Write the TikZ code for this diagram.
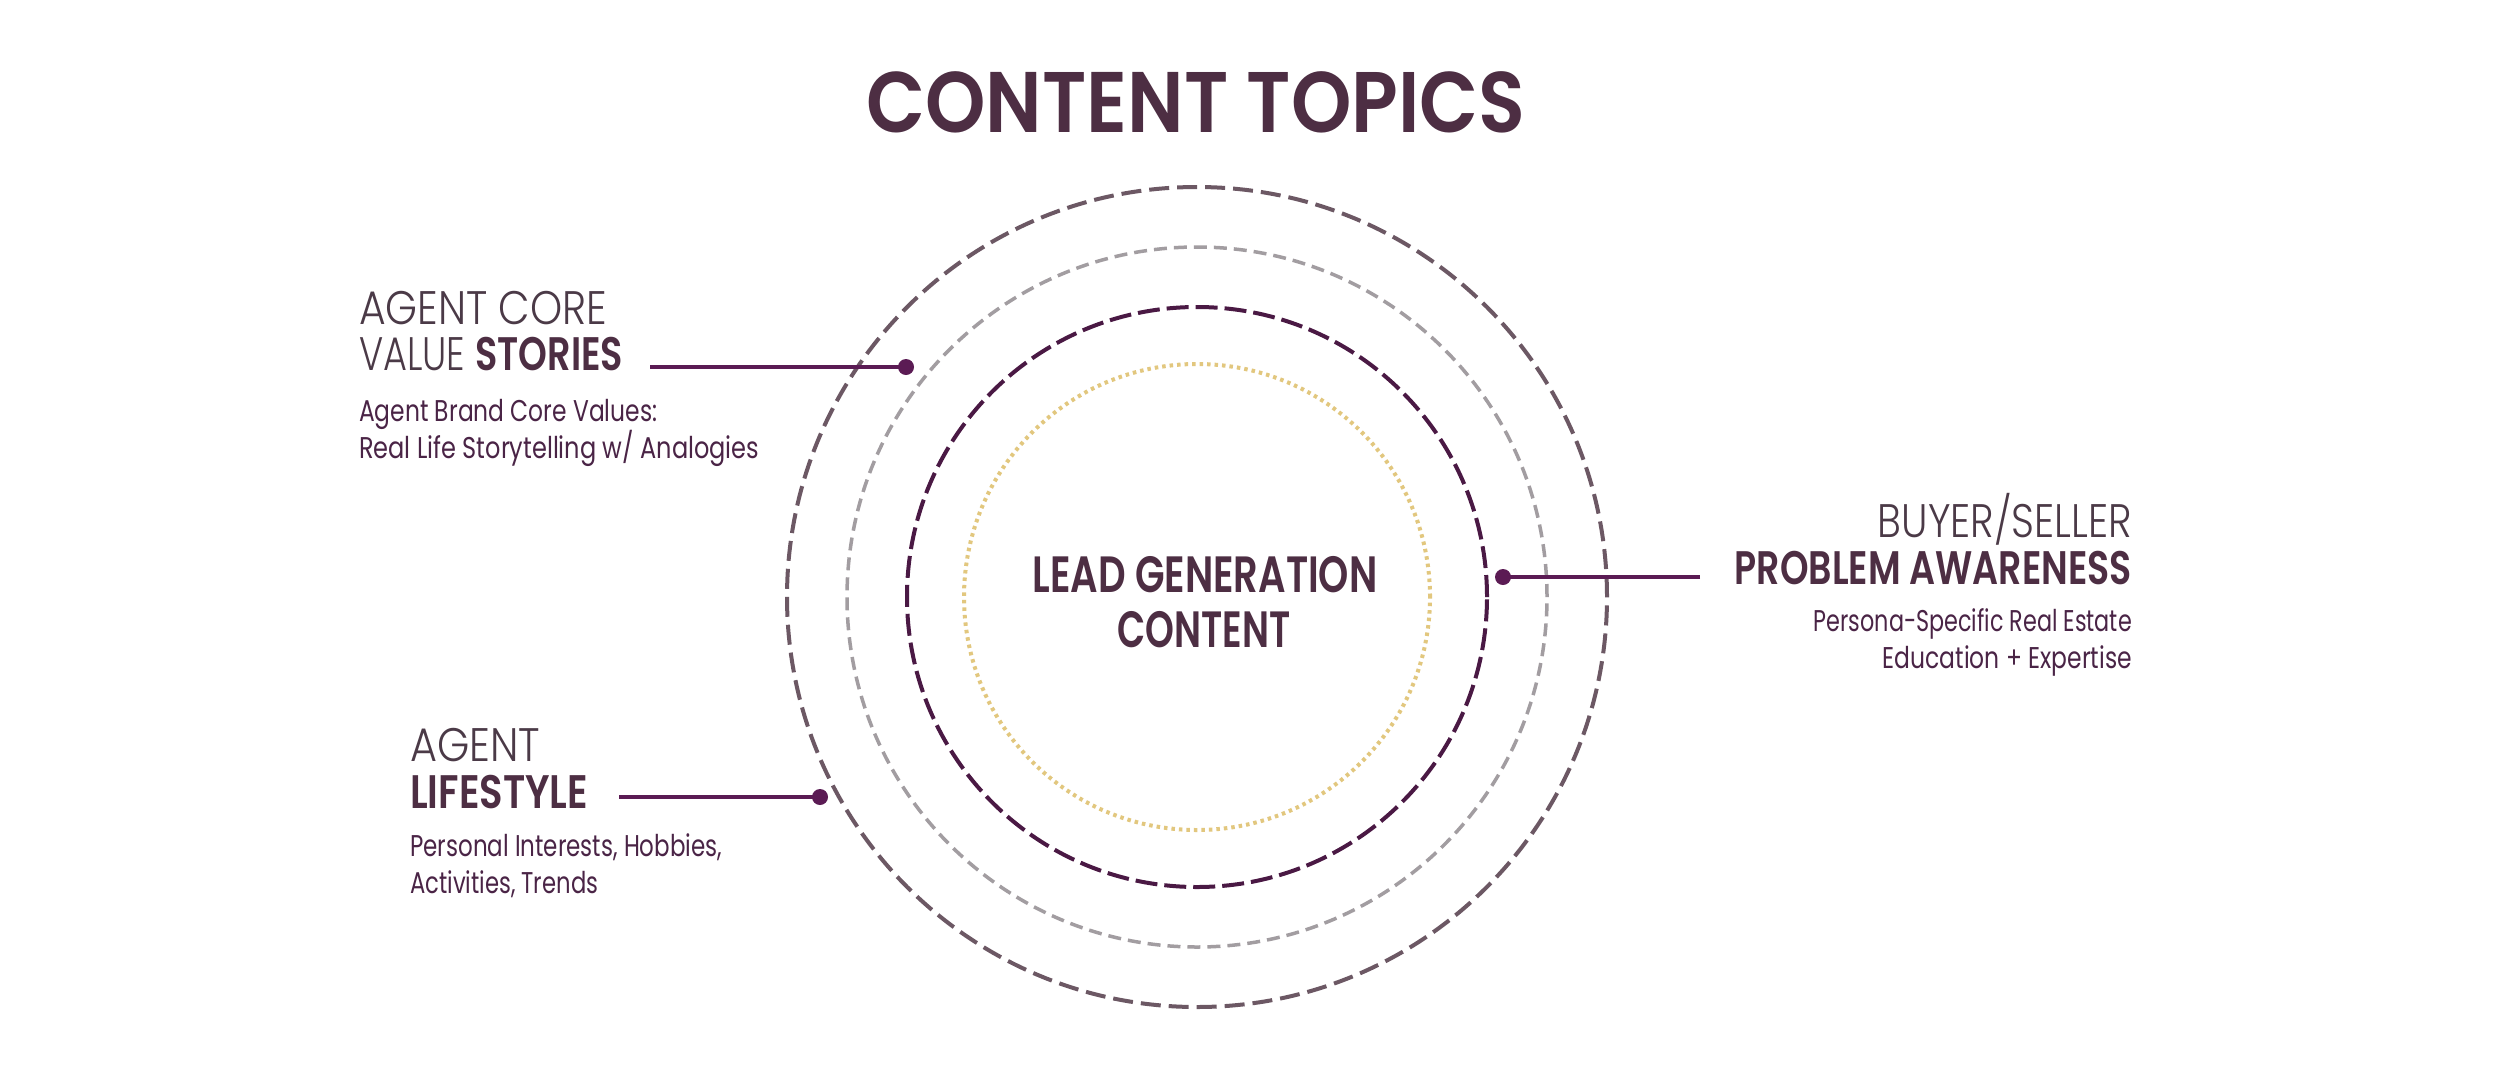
\documentclass[tikz,border=0pt]{standalone}
\usepackage{fontspec}
\usepackage{graphicx}
\setmainfont{Poppins}
\newfontfamily\lightf{Poppins Light}
\newfontfamily\regf{Poppins}
\newfontfamily\semif{Poppins SemiBold}
\definecolor{titlec}{HTML}{4D2E43}
\definecolor{headc}{HTML}{4B3A47}
\definecolor{bodyc}{HTML}{4A2446}
\definecolor{linec}{HTML}{5B1B54}
\definecolor{outerc}{HTML}{6C5864}
\definecolor{grayc}{HTML}{A29DA1}
\definecolor{purpc}{HTML}{4A1944}
\definecolor{yellc}{HTML}{E2C77E}
\newcommand{\fitw}[2]{\resizebox{#1pt}{\height}{#2}}
\begin{document}
\begin{tikzpicture}[x=1pt,y=-1pt,
 txt/.style={inner sep=0pt, anchor=base west},
 txtr/.style={inner sep=0pt, anchor=base east},
 txtc/.style={inner sep=0pt, anchor=base},
 headf/.style={font=\lightf\fontsize{47}{47}\selectfont, text=headc},
 boldf/.style={font=\semif\fontsize{47}{47}\selectfont, text=titlec},
 bodyf/.style={font=\regf\fontsize{30}{30}\selectfont, text=bodyc},
 conn/.style={draw=linec, line width=4pt},
 knob/.style={circle, fill=linec, inner sep=0pt, minimum size=16pt}]
\path[use as bounding box, fill=white] (0,0) rectangle (2500,1080);

% rings
\draw[outerc, line width=4pt, dash pattern=on 20pt off 8pt] (1197,597) circle[radius=410pt];
\draw[grayc, line width=3.5pt, dash pattern=on 13pt off 7pt] (1197,597) circle[radius=350pt];
\draw[purpc, line width=4pt, dash pattern=on 22pt off 7pt] (1197,597) circle[radius=290pt];
\draw[yellc, line width=4pt, dash pattern=on 3.5pt off 4pt] (1197,597) circle[radius=233pt];

% title
\node[txtc, font=\semif\fontsize{86}{86}\selectfont, text=titlec] (title) at (1196,132) {\fitw{659}{CONTENT TOPICS}};

% center
\node[txtc, boldf, font=\semif\fontsize{51}{51}\selectfont] (c1) at (1205,592) {\fitw{345}{LEAD GENERATION}};
\node[txtc, boldf, font=\semif\fontsize{51}{51}\selectfont] (c2) at (1204,647) {\fitw{173}{CONTENT}};

% top-left group
\node[txt, headf] (h1a) at (359,324) {\fitw{248}{AGENT CORE}};
\node[txt, headf] (h1b) at (359,370) {\fitw{264}{VALUE {\semif\color{titlec}STORIES}}};
\node[txt, bodyf] (b1a) at (359,421) {\fitw{298}{Agent Brand Core Values:}};
\node[txt, bodyf] (b1b) at (359,458) {\fitw{400}{Real Life Storytelling w/ Analogies}};

% right group
\node[txtr, headf] (h2a) at (2132,537) {\fitw{254}{BUYER/SELLER}};
\node[txtr, boldf] (h2b) at (2132,584) {\fitw{397}{PROBLEM AWARENESS}};
\node[txtr, bodyf] (b2a) at (2132,631) {\fitw{318}{Persona-Specific Real Estate}};
\node[txtr, bodyf] (b2b) at (2132,668) {\fitw{249}{Education + Expertise}};

% bottom-left group
\node[txt, headf] (h3a) at (410,761) {\fitw{130}{AGENT}};
\node[txt, boldf] (h3b) at (410,808) {\fitw{178}{LIFESTYLE}};
\node[txt, bodyf] (b3a) at (410,856) {\fitw{312}{Personal Interests, Hobbies,}};
\node[txt, bodyf] (b3b) at (410,893) {\fitw{188}{Activities, Trends}};

% connectors
\coordinate (s1) at (650,367);
\coordinate (s2) at (1700,577);
\coordinate (s3) at (619,797);
\node[knob] (d1) at (906,367) {};
\node[knob] (d2) at (1503,577) {};
\node[knob] (d3) at (820,797) {};
\draw[conn] (s1) -- (d1.center);
\draw[conn] (s2) -- (d2.center);
\draw[conn] (s3) -- (d3.center);
\end{tikzpicture}
\end{document}
